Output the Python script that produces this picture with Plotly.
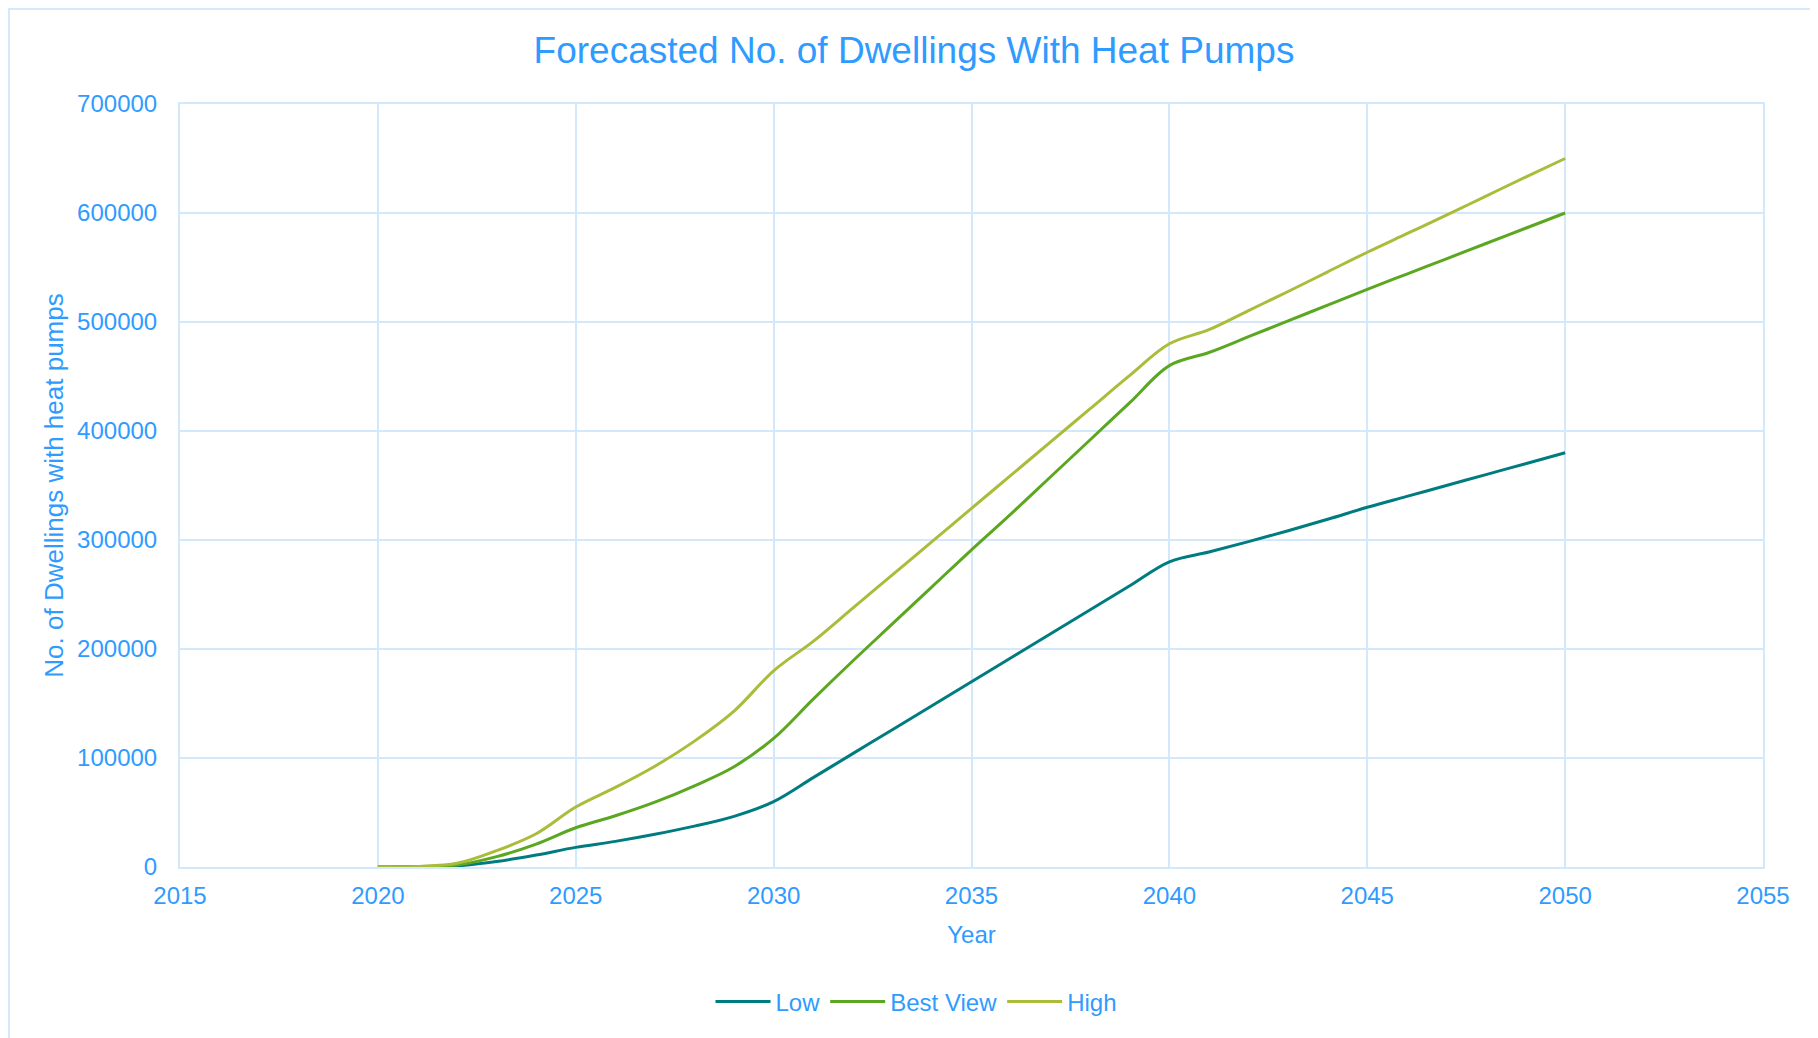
import plotly.graph_objects as go

years = list(range(2020, 2051))

low = [0, 0, 1000, 5000, 11000, 18000, 23500, 30000, 37500, 46500, 60000,
       82000, 104000, 126000, 148000, 170000, 192000, 214000, 236000, 258000, 280000,
       289000, 298500, 308500, 319000, 330000, 340000, 350000, 360000, 370000, 380000]
best = [0, 500, 1800, 9500, 21000, 36000, 47000, 59500, 74500, 92000, 118000,
        154000, 189000, 223000, 257000, 291000, 324000, 358000, 392000, 426000, 460000,
        472000, 486500, 501000, 515500, 530000, 544000, 558000, 572000, 586000, 600000]
high = [0, 500, 3400, 15000, 30500, 55000, 73000, 92500, 115500, 143000, 180000,
        207000, 237500, 268000, 298500, 329000, 359500, 390000, 420500, 451000, 480000,
        493000, 510500, 528000, 546000, 564000, 581000, 598000, 615500, 633000, 650000]

series_names = ["Low", "Best View", "High"]
series_values = [low, best, high]
colors = ["#007C80", "#5BA71F", "#AABC3A"]

title_text = "Forecasted No. of Dwellings With Heat Pumps"
x_title = "Year"
y_title = "No. of Dwellings with heat pumps"
x_ticks = [2015, 2020, 2025, 2030, 2035, 2040, 2045, 2050, 2055]
y_ticks = [0, 100000, 200000, 300000, 400000, 500000, 600000, 700000]

TXT = "#2F9BFF"
GRID = "#D3E8FB"
FONT = "Liberation Sans, Arial, sans-serif"

fig = go.Figure()
for name, vals, col in zip(series_names, series_values, colors):
    fig.add_trace(go.Scatter(
        x=years, y=vals, name=name, mode="lines",
        line=dict(color=col, width=3, shape="spline", smoothing=1.0),
    ))

W, H = 1818, 1038
L, R, T, B = 172, 63, 96, 179
pw, ph = W - L - R, H - T - B

fig.update_layout(
    width=W, height=H,
    margin=dict(l=L, r=R, t=T, b=B),
    paper_bgcolor="white", plot_bgcolor="white",
    font=dict(family=FONT, color=TXT, size=24),
    title=dict(text=title_text, font=dict(size=37, color=TXT, family=FONT),
               x=906 / W, xanchor="center", xref="container",
               y=1 - 42 / H, yanchor="middle", yref="container"),
    xaxis=dict(range=[2015, 2055], tickvals=x_ticks, showgrid=True, gridcolor=GRID,
               gridwidth=1.5, showline=True, linecolor=GRID, linewidth=2, mirror=True,
               zeroline=False, ticks="", ticklabelstandoff=6,
               tickfont=dict(size=24, color=TXT),
               title=dict(text=x_title, font=dict(size=24, color=TXT), standoff=18)),
    yaxis=dict(range=[0, 700000], tickvals=y_ticks, showgrid=True, gridcolor=GRID,
               gridwidth=1.5, showline=True, linecolor=GRID, linewidth=2, mirror=True,
               zeroline=False, ticks="", ticklabelstandoff=16, tickformat="d",
               tickfont=dict(size=24, color=TXT),
               title=dict(text=y_title, font=dict(size=26, color=TXT), standoff=6)),
    legend=dict(orientation="h", x=(916 - 180) / pw, xanchor="center",
                y=-(1002 - 867) / ph, yanchor="middle", itemwidth=55,
                font=dict(size=24, color=TXT), bgcolor="rgba(0,0,0,0)"),
    showlegend=True,
    shapes=[dict(type="rect", xref="paper", yref="paper",
                 x0=(1 - L) / pw, x1=1.2, y0=-0.4, y1=1 + (T - 1) / ph,
                 line=dict(color="#D6E9FB", width=2), fillcolor="rgba(0,0,0,0)",
                 layer="below")],
)

fig.write_html("out.html")
